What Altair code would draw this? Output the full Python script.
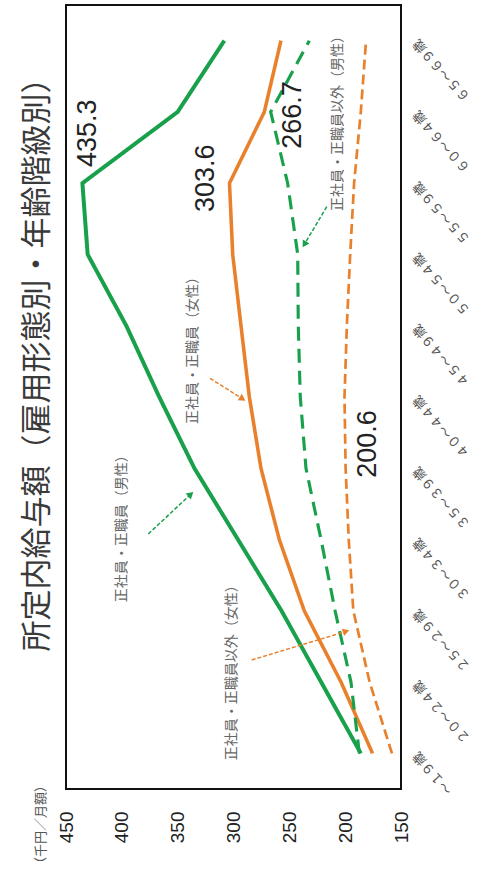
import altair as alt
import pandas as pd

FONT = "Noto Sans CJK JP"
NUM_FONT = "Liberation Sans"
GREEN = "#18a04b"
ORANGE = "#e8802c"

# Age groups (bottom to top) and monthly scheduled earnings (thousand yen)
ages = ["～１９歳", "２０～２４歳", "２５～２９歳", "３０～３４歳", "３５～３９歳",
        "４０～４４歳", "４５～４９歳", "５０～５４歳", "５５～５９歳", "６０～６４歳", "６５～６９歳"]
regular_male = [186.0, 221.5, 257.0, 296.0, 335.0, 366.5, 396.0, 430.6, 435.3, 350.0, 308.2]
regular_female = [175.5, 203.7, 236.6, 259.0, 275.4, 285.8, 293.3, 300.7, 303.6, 272.4, 257.5]
nonregular_male = [187.3, 194.8, 209.0, 221.6, 235.1, 240.2, 242.0, 242.5, 251.5, 266.7, 232.1]
nonregular_female = [158.1, 178.1, 192.7, 196.8, 199.6, 200.6, 198.5, 195.5, 192.0, 186.0, 181.3]

series_names = ["正社員・正職員（男性）", "正社員・正職員（女性）",
                "正社員・正職員以外（男性）", "正社員・正職員以外（女性）"]
series_values = [regular_male, regular_female, nonregular_male, nonregular_female]

rows = []
for name, vals in zip(series_names, series_values):
    for i, v in enumerate(vals):
        rows.append({"series": name, "idx": i, "value": v})
df = pd.DataFrame(rows)

# Peak value of each series gets a numeric label
peaks = []
for name, vals in zip(series_names, series_values):
    i = max(range(len(vals)), key=lambda k: vals[k])
    peaks.append({"series": name, "idx": i, "value": vals[i], "label": f"{vals[i]:.1f}"})
peak_df = pd.DataFrame(peaks)

x_scale = alt.Scale(domain=[150, 450], reverse=True, nice=False, zero=False)
y_scale = alt.Scale(domain=[-0.5, 10.5], nice=False, zero=False)

label_expr = "[" + ",".join(f"'{a}'" for a in ages) + "][datum.value]"

x_enc = alt.X("value:Q", scale=x_scale,
              axis=alt.Axis(values=[150, 200, 250, 300, 350, 400, 450], grid=False, ticks=False,
                            domain=False, labelAngle=270, labelAlign="right", labelBaseline="middle",
                            labelPadding=22, labelFontSize=19, labelFont=NUM_FONT, labelColor="#222",
                            labelFlush=False, labelOverlap=False,
                            title="（千円／月額）", titleFont=FONT, titleFontSize=13,
                            titleFontWeight="normal", titleColor="#555", titleAngle=270,
                            titleAlign="center", titleBaseline="middle", titleX=-26, titleY=35))
y_enc = alt.Y("idx:Q", scale=y_scale,
              axis=alt.Axis(orient="right", values=list(range(len(ages))), labelExpr=label_expr,
                            grid=False, ticks=False, domain=False, labelAngle=228,
                            labelAlign="right", labelBaseline="middle", labelPadding=14,
                            labelFontSize=13, labelFont=FONT, labelColor="#555",
                            labelFlush=False, labelOverlap=False, title=None))

lines = alt.Chart(df).mark_line().encode(
    x=x_enc,
    y=y_enc,
    order=alt.Order("idx:Q"),
    color=alt.Color("series:N", scale=alt.Scale(domain=series_names,
                                                range=[GREEN, ORANGE, GREEN, ORANGE]), legend=None),
    strokeDash=alt.StrokeDash("series:N", scale=alt.Scale(domain=series_names,
                                                          range=[[1, 0], [1, 0], [14, 8], [10, 5]]),
                              legend=None),
    strokeWidth=alt.StrokeWidth("series:N", scale=alt.Scale(domain=series_names,
                                                            range=[4, 2.7, 4.5, 3.5]), legend=None),
    detail="series:N",
)

# Peak labels, each nudged beside its point
offsets = [(6, -50), (-23, -5), (22, 3), (24, 47)]
peak_layers = []
for name, (ox, oy) in zip(series_names, offsets):
    peak_layers.append(
        alt.Chart(peak_df).transform_filter(alt.datum.series == name)
        .mark_text(angle=270, align="center", baseline="middle", font=NUM_FONT, fontSize=27,
                   color="#222", xOffset=ox, yOffset=oy)
        .encode(x=alt.X("value:Q", scale=x_scale), y=alt.Y("idx:Q", scale=y_scale), text="label:N")
    )

# Series captions with pointer arrows
captions = pd.DataFrame({
    "text": series_names,
    "value": [400.0, 336.3, 206.4, 301.6],
    "idx": [3.2, 5.7, 8.886, 1.18],
})
caption_marks = alt.Chart(captions).mark_text(angle=270, align="center", baseline="middle",
                                              font=FONT, fontSize=14, color="#666").encode(
    x=alt.X("value:Q", scale=x_scale), y=alt.Y("idx:Q", scale=y_scale), text="text:N")

arrows = pd.DataFrame({
    "v0": [376.3, 321.0, 216.5, 283.7],
    "i0": [3.078, 5.262, 7.670, 1.310],
    "v1": [339.0, 292.7, 236.0, 200.1],
    "i1": [3.625, 4.982, 7.156, 1.707],
    "col": [GREEN, ORANGE, GREEN, ORANGE],
    "ang": [48.7, 122.6, 210.7, 72.5],
})
arrow_lines = alt.Chart(arrows).mark_rule(strokeWidth=1.5, strokeDash=[4, 2]).encode(
    x=alt.X("v0:Q", scale=x_scale), y=alt.Y("i0:Q", scale=y_scale),
    x2="v1:Q", y2="i1:Q", color=alt.Color("col:N", scale=None))
arrow_heads = alt.Chart(arrows).mark_point(shape="triangle", filled=True, size=60, opacity=1).encode(
    x=alt.X("v1:Q", scale=x_scale), y=alt.Y("i1:Q", scale=y_scale),
    color=alt.Color("col:N", scale=None), angle=alt.Angle("ang:Q", scale=None))

chart = alt.layer(lines, *peak_layers, caption_marks, arrow_lines, arrow_heads).properties(
    width=335, height=784,
    background="white",
    title=alt.TitleParams(text="所定内給与額（雇用形態別・年齢階級別）", orient="left",
                          anchor="middle", font=FONT, fontSize=31, fontWeight="normal",
                          color="#3a3a3a", offset=-20, dx=40),
    autosize=alt.AutoSizeParams(type="none"),
    padding={"left": 66, "top": 5, "right": 81, "bottom": 88},
).configure_view(stroke="#111", strokeWidth=2)

chart.save("out.html", embed_options={"renderer": "svg", "actions": False})
